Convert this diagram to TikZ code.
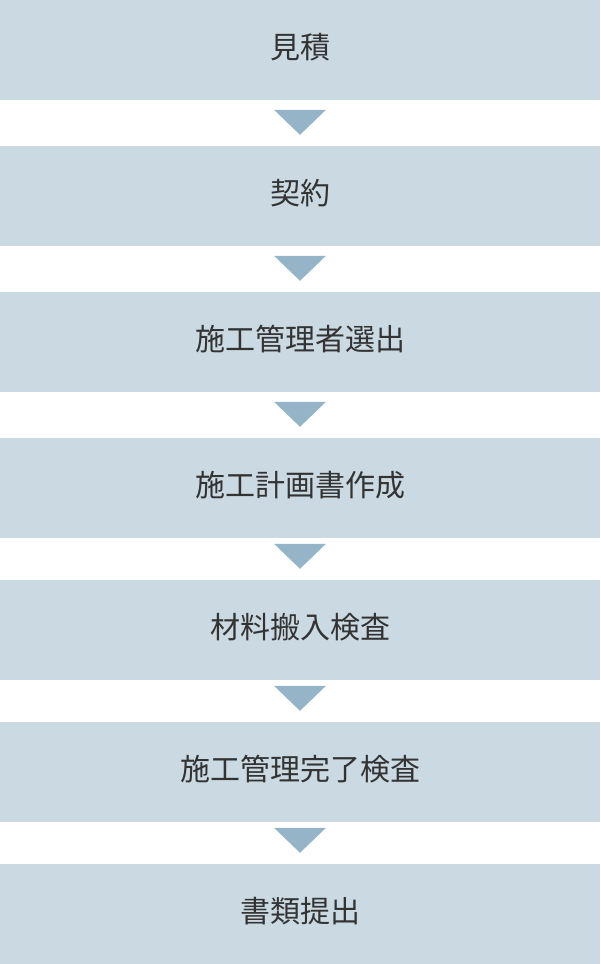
\documentclass[tikz,border=0pt]{standalone}
\usepackage{fontspec}
\newfontfamily\jpfont{Noto Sans CJK JP}
\usetikzlibrary{positioning}

\definecolor{stepfill}{HTML}{CBD9E2}
\definecolor{arrowfill}{HTML}{95B4C8}
\definecolor{steptext}{HTML}{333333}

\begin{document}
\begin{tikzpicture}[
    x=1pt, y=-1pt, % pixel-like units, y runs downwards
    stepbox/.style={fill=stepfill, text=steptext, inner sep=0pt,
      minimum width=600pt, minimum height=100pt,
      text height=26.4pt, text depth=9.6pt, % lift the text a little
      font=\jpfont\fontsize{30}{30}\selectfont}, % Style for the step bands
    downarrow/.style={fill=arrowfill} % Style for the triangles between steps
]

    % Page frame
    \useasboundingbox (0,0) rectangle (600,964);

    % Steps
    \node[stepbox] (mitsumori) at (300,50)  {見積};
    \node[stepbox] (keiyaku)   at (300,196) {契約};
    \node[stepbox] (sentei)    at (300,342) {施工管理者選出};
    \node[stepbox] (keikaku)   at (300,488) {施工計画書作成};
    \node[stepbox] (hannyu)    at (300,630) {材料搬入検査};
    \node[stepbox] (kanryo)    at (300,772) {施工管理完了検査};
    \node[stepbox] (shorui)    at (300,914) {書類提出};

    % Triangles pointing to the next step
    \foreach \nxt in {keiyaku, sentei, keikaku, hannyu, kanryo, shorui}
      \fill[downarrow] ([yshift=11pt]\nxt.north) -- ++(-26pt,25pt)
        -- ++(52pt,0pt) -- cycle;

\end{tikzpicture}
\end{document}
